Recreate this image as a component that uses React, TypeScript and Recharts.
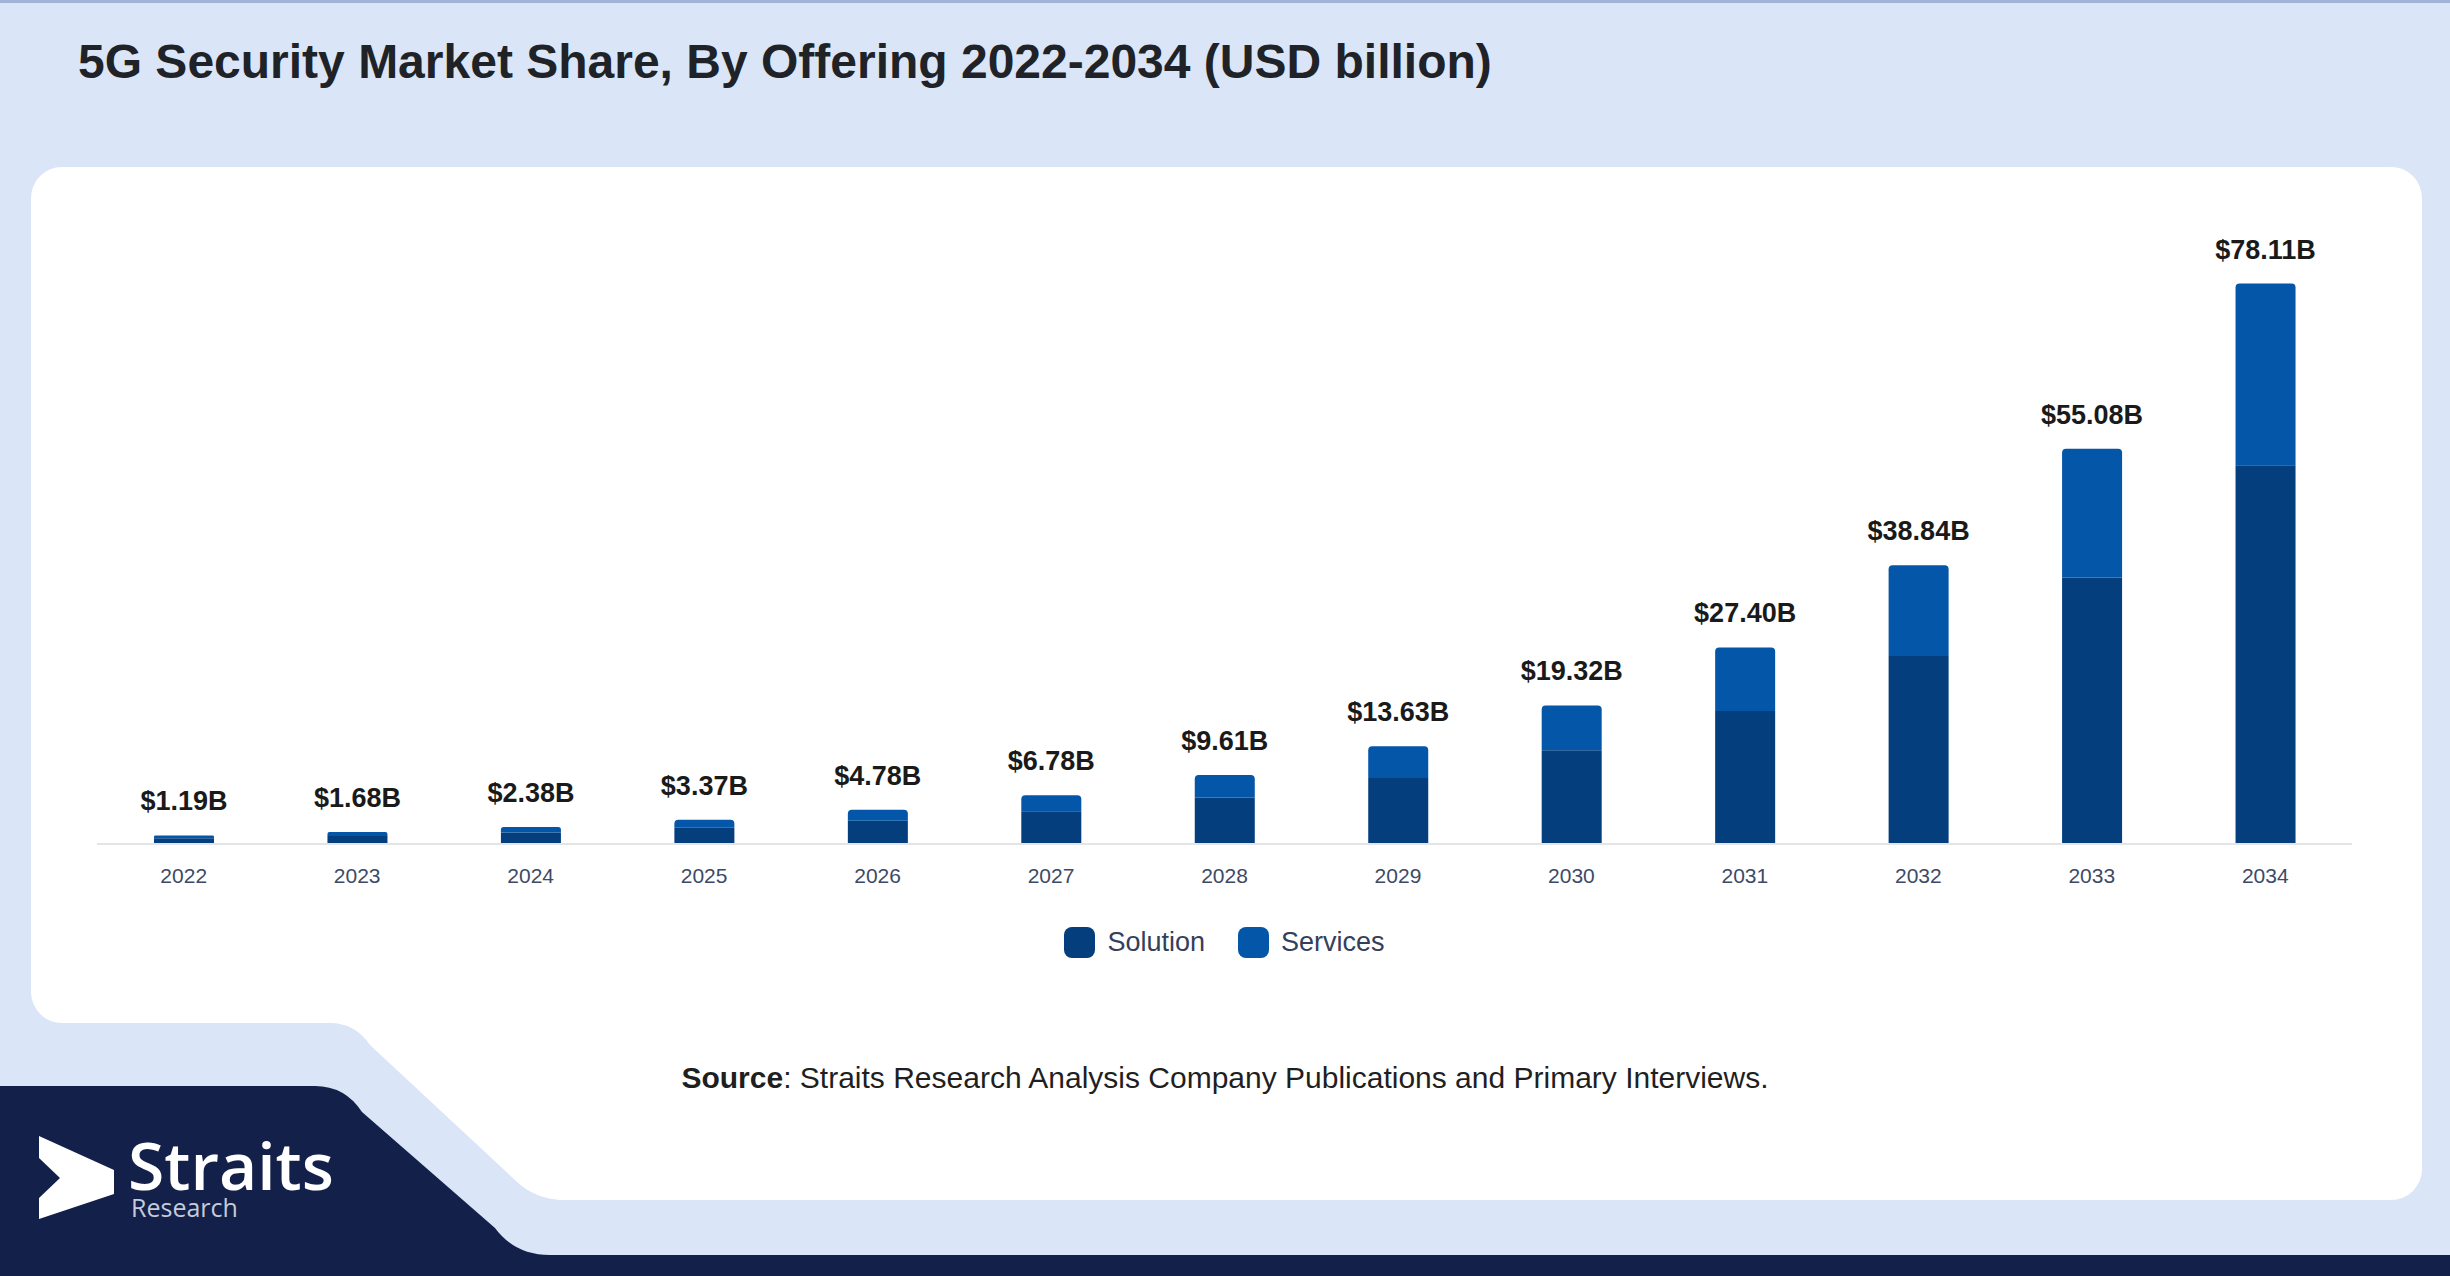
import { Bar, BarChart, LabelList, Legend, XAxis, YAxis } from 'recharts';

const years = ['2022', '2023', '2024', '2025', '2026', '2027', '2028', '2029', '2030', '2031', '2032', '2033', '2034'];
const solution = [0.8, 1.13, 1.61, 2.28, 3.23, 4.58, 6.49, 9.2, 13.05, 18.52, 26.2, 37.15, 52.8];
const services = [0.39, 0.55, 0.77, 1.09, 1.55, 2.2, 3.12, 4.43, 6.27, 8.88, 12.64, 17.93, 25.31];
const totalLabels = ['$1.19B', '$1.68B', '$2.38B', '$3.37B', '$4.78B', '$6.78B', '$9.61B', '$13.63B', '$19.32B', '$27.40B', '$38.84B', '$55.08B', '$78.11B'];

const SOLUTION_COLOR = '#043e7c';
const SERVICES_COLOR = '#0356a8';
const FONT = '"Liberation Sans", Arial, sans-serif';

const data = years.map((year, i) => ({
  year,
  solution: solution[i],
  services: services[i],
  label: totalLabels[i],
}));

const legendItems = [
  { name: 'Solution', color: SOLUTION_COLOR },
  { name: 'Services', color: SERVICES_COLOR },
];

function ChartLegend() {
  return (
    <div style={{ display: 'flex', justifyContent: 'center', alignItems: 'center', height: 60, gap: 33 }}>
      {legendItems.map((item) => (
        <div key={item.name} style={{ display: 'flex', alignItems: 'center' }}>
          <span style={{ width: 31, height: 31, borderRadius: 8, background: item.color, marginRight: 12 }} />
          <span style={{ fontSize: 27, color: '#34405a', fontFamily: FONT }}>{item.name}</span>
        </div>
      ))}
    </div>
  );
}

export default function App() {
  return (
    <div style={{ position: 'relative', width: 2450, height: 1276, overflow: 'hidden', fontFamily: FONT }}>
      <style>{'body{margin:0}'}</style>

      {/* background, card and the bottom-left tabs */}
      <svg width={2450} height={1276} style={{ position: 'absolute', left: 0, top: 0 }}>
        <rect x={0} y={0} width={2450} height={1276} fill="#dae6f8" />
        <rect x={0} y={0} width={2450} height={3} fill="#a3b3d6" />
        <rect x={31} y={167} width={2391} height={1033} rx={31} fill="#ffffff" />
        <path
          d="M 0 980 H 31 V 992 A 31 31 0 0 0 62 1023 H 330 Q 355 1023 370 1045 L 515 1180 Q 535 1200 565 1200 V 1276 H 0 Z"
          fill="#dae6f8"
        />
        <path
          d="M 0 1086 H 315 Q 345 1086 362 1112 L 495 1228 Q 515 1255 550 1255 H 2450 V 1276 H 0 Z"
          fill="#13204a"
        />
        <polygon points="39,1136 114,1170 114,1194 39,1219 39,1198 60,1178 39,1158" fill="#ffffff" />
      </svg>

      <div
        style={{
          position: 'absolute',
          left: 78,
          top: 38,
          fontSize: 48,
          lineHeight: '48px',
          fontWeight: 700,
          color: '#1f2328',
          whiteSpace: 'nowrap',
        }}
      >
        5G Security Market Share, By Offering 2022-2034 (USD billion)
      </div>

      <div style={{ position: 'absolute', left: 0, top: 0 }}>
        <BarChart width={2450} height={1000} data={data} margin={{ top: 270, right: 98, left: 97, bottom: 28 }}>
          <XAxis
            dataKey="year"
            height={68}
            axisLine={{ stroke: '#e2e4e8', strokeWidth: 2 }}
            tickLine={false}
            tickSize={0}
            tickMargin={24}
            tick={{ fill: '#3d4a66', fontSize: 21, fontFamily: FONT }}
          />
          <YAxis hide domain={[0, 80]} />
          <Legend verticalAlign="bottom" height={60} content={() => <ChartLegend />} />
          <Bar dataKey="solution" stackId="a" fill={SOLUTION_COLOR} barSize={60} isAnimationActive={false} />
          <Bar dataKey="services" stackId="a" fill={SERVICES_COLOR} barSize={60} radius={[4, 4, 0, 0]} isAnimationActive={false}>
            <LabelList
              dataKey="label"
              position="top"
              offset={25}
              fill="#1a1a1a"
              fontSize={27}
              fontWeight={700}
              fontFamily={FONT}
            />
          </Bar>
        </BarChart>
      </div>

      <div
        style={{
          position: 'absolute',
          left: 0,
          top: 1063,
          width: 2450,
          textAlign: 'center',
          fontSize: 30,
          lineHeight: '30px',
          color: '#1f1f1f',
          whiteSpace: 'nowrap',
        }}
      >
        <b>Source</b>: Straits Research Analysis Company Publications and Primary Interviews.
      </div>

      {/* logo */}
      <div
        style={{
          position: 'absolute',
          left: 128,
          top: 1136,
          fontFamily: '"Open Sans", sans-serif',
          fontWeight: 600,
          fontSize: 66,
          lineHeight: '56px',
          color: '#ffffff',
        }}
      >
        Straits
      </div>
      <div
        style={{
          position: 'absolute',
          left: 131,
          top: 1195,
          fontFamily: '"Open Sans", sans-serif',
          fontSize: 25,
          lineHeight: '25px',
          color: '#c5cbd8',
        }}
      >
        Research
      </div>
    </div>
  );
}
